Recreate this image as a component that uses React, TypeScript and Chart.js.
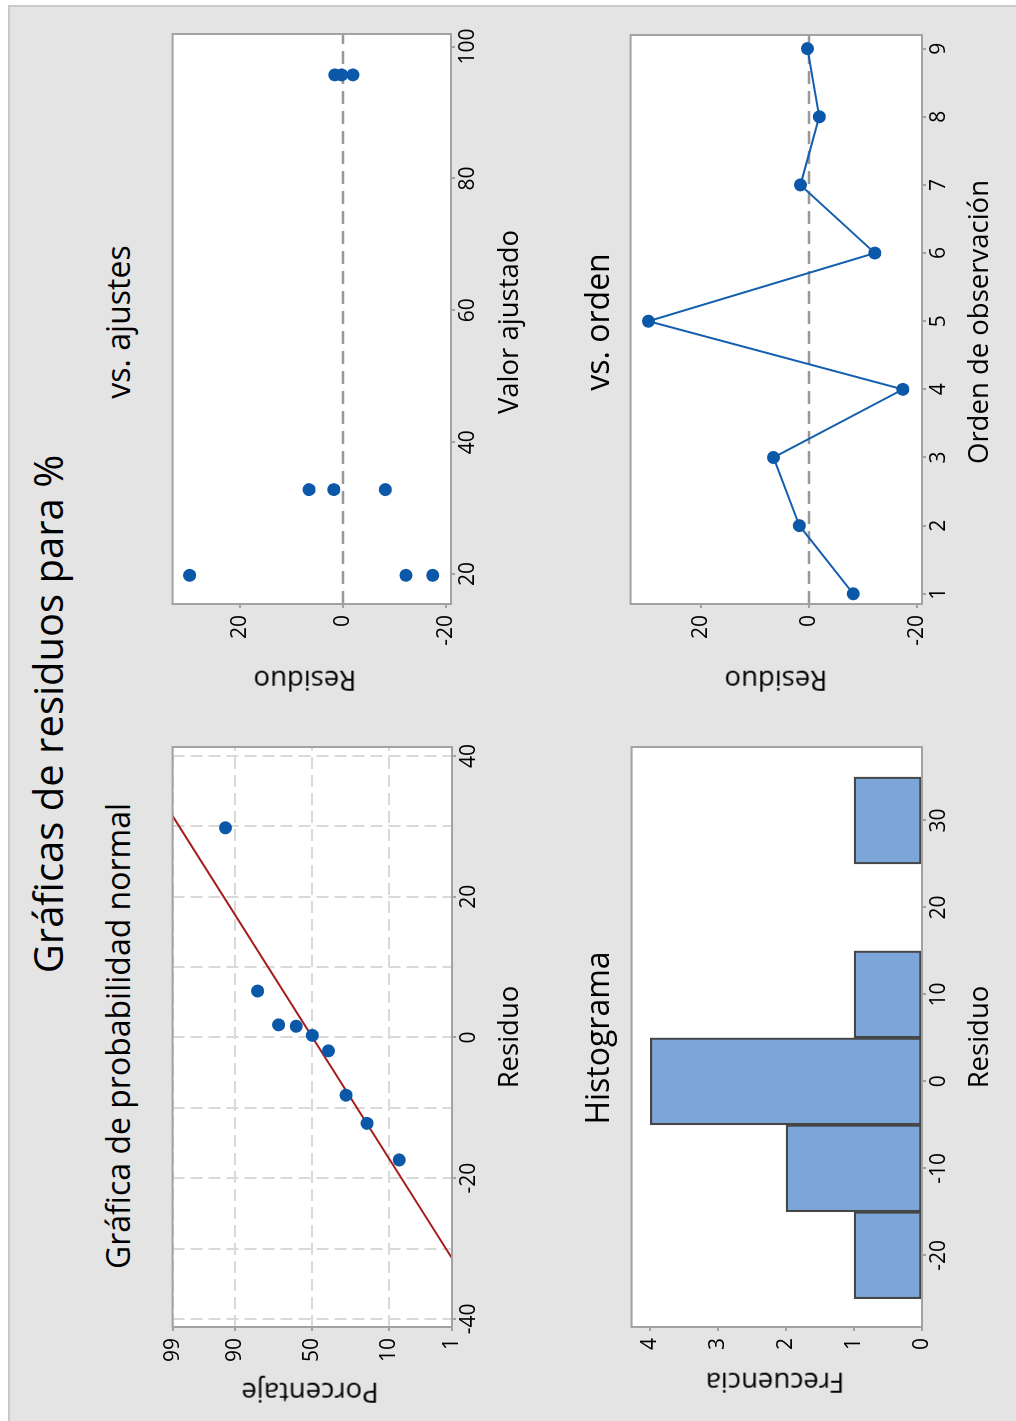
import React, { useEffect, useRef } from "react";
import { Chart, registerables } from "chart.js";

Chart.register(...registerables);

// ---------------- data ----------------
const observationOrder = [1, 2, 3, 4, 5, 6, 7, 8, 9];
const fittedValues = [32.8, 32.8, 32.8, 19.8, 19.8, 19.8, 95.7, 95.7, 95.7];
const residuals = [-8.2, 1.8, 6.6, -17.4, 29.8, -12.2, 1.6, -1.9, 0.3];
const probabilityPercents = [7.4, 18.1, 28.7, 39.4, 50.0, 60.6, 71.3, 81.9, 92.6];
const histogramBinCenters = [-20, -10, 0, 10, 20, 30];
const histogramCounts = [1, 2, 4, 1, 0, 1];

const percentTickLabels = [1, 10, 50, 90, 99];
const normalResidualTicks = [-40, -30, -20, -10, 0, 10, 20, 30, 40];
const fittedTicks = [20, 40, 60, 80, 100];
const residualTicks = [-20, 0, 20];
const histResidualTicks = [-20, -10, 0, 10, 20, 30];
const frequencyTicks = [0, 1, 2, 3, 4];
const orderTicks = [1, 2, 3, 4, 5, 6, 7, 8, 9];

// ---------------- helpers ----------------
function normInv(p: number): number {
  const a = [-3.969683028665376e1, 2.209460984245205e2, -2.759285104469687e2, 1.38357751867269e2, -3.066479806614716e1, 2.506628277459239];
  const b = [-5.447609879822406e1, 1.615858368580409e2, -1.556989798598866e2, 6.680131188771972e1, -1.328068155288572e1];
  const c = [-7.784894002430293e-3, -3.223964580411365e-1, -2.400758277161838, -2.549732539343734, 4.374664141464968, 2.938163982698783];
  const d = [7.784695709041462e-3, 3.224671290700398e-1, 2.445134137142996, 3.754408661907416];
  const pl = 0.02425;
  let q, r;
  if (p < pl) {
    q = Math.sqrt(-2 * Math.log(p));
    return (((((c[0] * q + c[1]) * q + c[2]) * q + c[3]) * q + c[4]) * q + c[5]) / ((((d[0] * q + d[1]) * q + d[2]) * q + d[3]) * q + 1);
  } else if (p <= 1 - pl) {
    q = p - 0.5;
    r = q * q;
    return ((((((a[0] * r + a[1]) * r + a[2]) * r + a[3]) * r + a[4]) * r + a[5]) * q) / (((((b[0] * r + b[1]) * r + b[2]) * r + b[3]) * r + b[4]) * r + 1);
  } else {
    q = Math.sqrt(-2 * Math.log(1 - p));
    return -(((((c[0] * q + c[1]) * q + c[2]) * q + c[3]) * q + c[4]) * q + c[5]) / ((((d[0] * q + d[1]) * q + d[2]) * q + d[3]) * q + 1);
  }
}

const FONT = "'Open Sans', 'Noto Sans', sans-serif";
const TICK_FONT = { family: FONT, size: 21 };
const FRAME = "#a2a2a2";
const BLUE = "#0b57a8";

// original (unrotated) figure size
const W = 1421;
const H = 1016;

const PAD_L = 110;
const PAD_T = 16;
const PAD_R = 24;
const PAD_B = 60;

type Area = { l: number; t: number; r: number; b: number };
const normalArea: Area = { l: 94, t: 169, r: 674, b: 452 };
const fitsArea: Area = { l: 817, t: 169, r: 1387, b: 451 };
const histArea: Area = { l: 94, t: 628, r: 674, b: 922 };
const orderArea: Area = { l: 817, t: 627, r: 1386, b: 922 };

const framePlugin = {
  id: "framePlugin",
  beforeDraw(chart: any) {
    const a = chart.chartArea;
    const ctx = chart.ctx;
    ctx.save();
    ctx.fillStyle = "#ffffff";
    ctx.fillRect(a.left, a.top, a.right - a.left, a.bottom - a.top);
    ctx.restore();
  },
  beforeDatasetsDraw(chart: any, _args: any, opts: any) {
    if (!opts || !opts.zeroLine) return;
    const a = chart.chartArea;
    const ctx = chart.ctx;
    const y = chart.scales.y.getPixelForValue(0);
    ctx.save();
    ctx.strokeStyle = "#999999";
    ctx.lineWidth = 2.5;
    ctx.setLineDash([13, 7]);
    ctx.beginPath();
    ctx.moveTo(a.left, y);
    ctx.lineTo(a.right, y);
    ctx.stroke();
    ctx.restore();
  },
  afterDraw(chart: any) {
    const a = chart.chartArea;
    const ctx = chart.ctx;
    ctx.save();
    ctx.strokeStyle = FRAME;
    ctx.lineWidth = 2;
    ctx.strokeRect(a.left, a.top, a.right - a.left, a.bottom - a.top);
    ctx.restore();
  },
};

function axis(opts: {
  min: number;
  max: number;
  ticks: number[];
  labels?: (v: number, i: number) => string;
  isX: boolean;
  grid?: boolean;
  tickShown?: (v: number) => boolean;
}) {
  return {
    type: "linear",
    min: opts.min,
    max: opts.max,
    offset: false,
    afterBuildTicks: (a: any) => {
      a.ticks = opts.ticks.map((value) => ({ value }));
    },
    afterFit: (s: any) => {
      if (opts.isX) s.height = PAD_B;
      else s.width = PAD_L;
    },
    ticks: {
      autoSkip: false,
      maxRotation: 0,
      minRotation: 0,
      color: "#000000",
      font: TICK_FONT,
      padding: opts.isX ? 0 : 7,
      callback: (v: any, i: number) => (opts.labels ? opts.labels(Number(v), i) : String(v)),
    },
    grid: {
      offset: false,
      drawOnChartArea: !!opts.grid,
      color: "#d9d9d9",
      lineWidth: 2,
      tickLength: 4,
      tickWidth: 2,
      tickColor: (ctx: any) => {
        const v = ctx.tick ? ctx.tick.value : 0;
        return !opts.tickShown || opts.tickShown(v) ? FRAME : "rgba(0,0,0,0)";
      },
    },
    border: { display: false, dash: [12, 6] },
  };
}

function canvasBox(a: Area) {
  return {
    left: a.l - PAD_L,
    top: a.t - PAD_T,
    width: a.r - a.l + PAD_L + PAD_R,
    height: a.b - a.t + PAD_T + PAD_B,
  };
}

function baseOptions(scales: any, zeroLine = false) {
  return {
    responsive: false,
    animation: false,
    events: [],
    layout: { padding: { left: 0, top: PAD_T, right: PAD_R, bottom: 0 } },
    plugins: {
      legend: { display: false },
      tooltip: { enabled: false },
      title: { display: false },
      framePlugin: { zeroLine },
    },
    scales,
  };
}

function ChartBox({ area, build }: { area: Area; build: () => any }) {
  const ref = useRef<HTMLCanvasElement | null>(null);
  const box = canvasBox(area);
  useEffect(() => {
    if (!ref.current) return;
    const chart = new Chart(ref.current, build());
    return () => chart.destroy();
  }, []);
  return (
    <div style={{ position: "absolute", left: box.left, top: box.top, width: box.width, height: box.height }}>
      <canvas ref={ref} width={box.width} height={box.height} style={{ width: box.width, height: box.height, display: "block" }} />
    </div>
  );
}

// ---------------- chart configs ----------------
const zMin = normInv(0.01);
const zMax = normInv(0.99);

function buildNormal() {
  const sorted = [...residuals].sort((a, b) => a - b);
  const n = residuals.length;
  const mean = residuals.reduce((s, v) => s + v, 0) / n;
  const sd = Math.sqrt(residuals.reduce((s, v) => s + (v - mean) * (v - mean), 0) / (n - 1));
  return {
    type: "scatter",
    data: {
      datasets: [
        {
          data: sorted.map((r, i) => ({ x: r, y: normInv(probabilityPercents[i] / 100) })),
          pointRadius: 6.5,
          pointBackgroundColor: BLUE,
          pointBorderColor: BLUE,
          pointBorderWidth: 0,
        },
        {
          data: [
            { x: mean + sd * zMin, y: zMin },
            { x: mean + sd * zMax, y: zMax },
          ],
          showLine: true,
          borderColor: "#a41c1c",
          borderWidth: 2,
          pointRadius: 0,
        },
      ],
    },
    options: baseOptions({
      x: axis({
        min: -41.14,
        max: 41.28,
        ticks: normalResidualTicks,
        isX: true,
        grid: true,
        labels: (v) => (v % 20 === 0 ? String(v) : ""),
        tickShown: (v) => v % 20 === 0,
      }),
      y: axis({
        min: zMin,
        max: zMax,
        ticks: percentTickLabels.map((p) => normInv(p / 100)),
        isX: false,
        grid: true,
        labels: (_v, i) => String(percentTickLabels[i]),
      }),
    }),
    plugins: [framePlugin],
  };
}

function buildFits() {
  return {
    type: "scatter",
    data: {
      datasets: [
        {
          data: fittedValues.map((f, i) => ({ x: f, y: residuals[i] })),
          pointRadius: 6.5,
          pointBackgroundColor: BLUE,
          pointBorderColor: BLUE,
          pointBorderWidth: 0,
        },
      ],
    },
    options: baseOptions(
      {
        x: axis({ min: 15.45, max: 101.9, ticks: fittedTicks, isX: true }),
        y: axis({ min: -20.95, max: 33.1, ticks: residualTicks, isX: false }),
      },
      true
    ),
    plugins: [framePlugin],
  };
}

function buildHist() {
  return {
    type: "bar",
    data: {
      datasets: [
        {
          data: histogramBinCenters.map((c, i) => ({ x: c, y: histogramCounts[i] === 0 ? null : histogramCounts[i] })),
          backgroundColor: "#7ca6d9",
          borderColor: "#464646",
          borderWidth: 2.2,
          borderSkipped: false,
          barPercentage: 1,
          categoryPercentage: 1,
        },
      ],
    },
    options: baseOptions({
      x: axis({ min: -28.25, max: 38.45, ticks: histResidualTicks, isX: true }),
      y: axis({ min: 0, max: 4.276, ticks: frequencyTicks, isX: false }),
    }),
    plugins: [framePlugin],
  };
}

function buildOrder() {
  return {
    type: "line",
    data: {
      datasets: [
        {
          data: observationOrder.map((o, i) => ({ x: o, y: residuals[i] })),
          borderColor: "#1560ae",
          borderWidth: 2,
          tension: 0,
          pointRadius: 6.5,
          pointBackgroundColor: BLUE,
          pointBorderColor: BLUE,
          pointBorderWidth: 0,
        },
      ],
    },
    options: baseOptions(
      {
        x: axis({ min: 0.85, max: 9.2, ticks: orderTicks, isX: true }),
        y: axis({ min: -20.95, max: 33.1, ticks: residualTicks, isX: false }),
      },
      true
    ),
    plugins: [framePlugin],
  };
}

// ---------------- text ----------------
function Text({
  text,
  u,
  v,
  size,
  rotate = false,
  baseline = false,
}: {
  text: string;
  u: number;
  v: number;
  size: number;
  rotate?: boolean;
  baseline?: boolean;
}) {
  const cv = baseline ? v - 0.388 * size : v;
  return (
    <div
      style={{
        position: "absolute",
        left: u,
        top: cv,
        transform: `translate(-50%, -50%)${rotate ? " rotate(-90deg)" : ""}`,
        whiteSpace: "nowrap",
        fontFamily: FONT,
        fontSize: size,
        lineHeight: 1,
        color: "#000",
      }}
    >
      {text}
    </div>
  );
}

export default function App() {
  return (
    <div style={{ position: "fixed", left: 0, top: 0, width: 1016, height: 1421, background: "#ffffff", overflow: "hidden" }}>
      <div
        style={{
          position: "absolute",
          left: 0,
          top: 0,
          width: W,
          height: H,
          transformOrigin: "0 0",
          transform: `translateY(${W}px) rotate(-90deg)`,
        }}
      >
        <div
          style={{
            position: "absolute",
            left: 0,
            top: 8,
            width: 1416,
            height: H - 8,
            background: "#e4e4e4",
            borderTop: "2px solid #c9c9c9",
            borderRight: "2px solid #c9c9c9",
            boxSizing: "border-box",
          }}
        />
        <ChartBox area={normalArea} build={buildNormal} />
        <ChartBox area={fitsArea} build={buildFits} />
        <ChartBox area={histArea} build={buildHist} />
        <ChartBox area={orderArea} build={buildOrder} />

        <Text text="Gráficas de residuos para %" u={707} v={64} size={40} baseline />
        <Text text="Gráfica de probabilidad normal" u={385} v={130} size={32} baseline />
        <Text text="vs. ajustes" u={1099} v={130} size={32} baseline />
        <Text text="Histograma" u={383} v={609} size={32} baseline />
        <Text text="vs. orden" u={1099} v={609} size={32} baseline />

        <Text text="Residuo" u={384} v={519} size={27.5} baseline />
        <Text text="Valor ajustado" u={1099} v={519} size={27.5} baseline />
        <Text text="Residuo" u={384} v={989} size={27.5} baseline />
        <Text text="Orden de observación" u={1099} v={989} size={27.5} baseline />

        <Text text="Porcentaje" u={28} v={310} size={27.5} rotate />
        <Text text="Residuo" u={740} v={305} size={27.5} rotate />
        <Text text="Frecuencia" u={38} v={775} size={27.5} rotate />
        <Text text="Residuo" u={740} v={776} size={27.5} rotate />
      </div>
    </div>
  );
}
